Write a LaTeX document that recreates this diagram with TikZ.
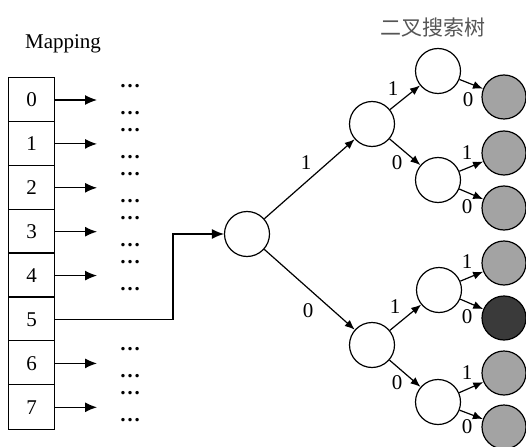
\documentclass[tikz,border=0pt]{standalone}
\usepackage{fontspec}
\setmainfont{Liberation Serif}
\newfontfamily\cjk{Noto Sans CJK SC}
\usetikzlibrary{arrows.meta}
\begin{document}
\begin{tikzpicture}[x=1pt,y=-1pt,
  font=\fontsize{21}{25}\selectfont,
  line width=1.2pt,
  cell/.style={rectangle, minimum width=45pt, minimum height=43.9pt, inner sep=0pt},
  tnode/.style={draw, circle, minimum size=45pt, inner sep=0pt, fill=white},
  leaf/.style={draw, circle, minimum size=44pt, inner sep=0pt, fill=leafgray},
  hit/.style={leaf, fill=leafdark},
  harr/.style={-{Latex[length=12pt,width=10pt]}},
  tarr/.style={-{Latex[length=10pt,width=8pt]}},
  dots/.style={inner sep=0pt, anchor=base, text height=3pt, text depth=0pt, font=\fontsize{21}{25}\selectfont\bfseries},
  lab/.style={inner sep=0pt}
]
\definecolor{leafgray}{HTML}{A3A3A3}
\definecolor{leafdark}{HTML}{3A3A3A}
\definecolor{titlegray}{HTML}{555555}
\useasboundingbox (0,0) rectangle (526,446);

% titles
\node[lab] (maptitle) at (63,44) {Mapping};
\node[lab, text=titlegray] (treetitle) at (433,28) {\cjk 二叉搜索树};

% mapping table: eight slots in one frame
\foreach \i in {0,...,7} {
  \node[cell] (c\i) at (31.5,{100+43.9*\i}) {\i};
}
\draw (c0.north west) rectangle (c7.south east);
\foreach \i in {1,...,7} {
  \draw (c\i.north west) -- (c\i.north east);
}
% arrows and ellipses for all slots except 5
\foreach \i in {0,1,2,3,4,6,7} {
  \coordinate (e\i) at (97,{100+43.9*\i});
  \draw[harr] (c\i.east) -- (e\i);
  \node[dots] (da\i) at (130,{100+43.9*\i-12.5}) {…};
  \node[dots] (db\i) at (130,{100+43.9*\i+14.5}) {…};
}

% search tree
\node[tnode] (root) at (247,234) {};
\node[tnode] (a1) at (372,124) {};
\node[tnode] (a0) at (372,345) {};
\node[tnode] (b11) at (438,71) {};
\node[tnode] (b10) at (438,180) {};
\node[tnode] (b01) at (439,290) {};
\node[tnode] (b00) at (438,402) {};
\node[leaf] (l1) at (504,97) {};
\node[leaf] (l2) at (504,153) {};
\node[leaf] (l3) at (504,208) {};
\node[leaf] (l4) at (504,263) {};
\node[hit]  (l5) at (504,318) {};
\node[leaf] (l6) at (504,373) {};
\node[leaf] (l7) at (504,427) {};

% slot 5 leads into the tree
\coordinate (bend) at (173,234);
\draw[harr] (c5.east) -| (bend) -- (root);

% tree edges
\draw[tarr] (root) -- (a1);
\draw[tarr] (root) -- (a0);
\draw[tarr] (a1) -- (b11);
\draw[tarr] (a1) -- (b10);
\draw[tarr] (a0) -- (b01);
\draw[tarr] (a0) -- (b00);
\draw[tarr] (b11) -- (l1);
\draw[tarr] (b10) -- (l2);
\draw[tarr] (b10) -- (l3);
\draw[tarr] (b01) -- (l4);
\draw[tarr] (b01) -- (l5);
\draw[tarr] (b00) -- (l6);
\draw[tarr] (b00) -- (l7);

% edge labels
\node[lab] (t1) at (306,163) {1};
\node[lab] (t2) at (308,311) {0};
\node[lab] (t3) at (393,89) {1};
\node[lab] (t4) at (397,163) {0};
\node[lab] (t5) at (395,307) {1};
\node[lab] (t6) at (397,383) {0};
\node[lab] (t7) at (468,100) {0};
\node[lab] (t8) at (467,153) {1};
\node[lab] (t9) at (467,207) {0};
\node[lab] (t10) at (467,262) {1};
\node[lab] (t11) at (467,317) {0};
\node[lab] (t12) at (467,373) {1};
\node[lab] (t13) at (467,427) {0};
\end{tikzpicture}
\end{document}
